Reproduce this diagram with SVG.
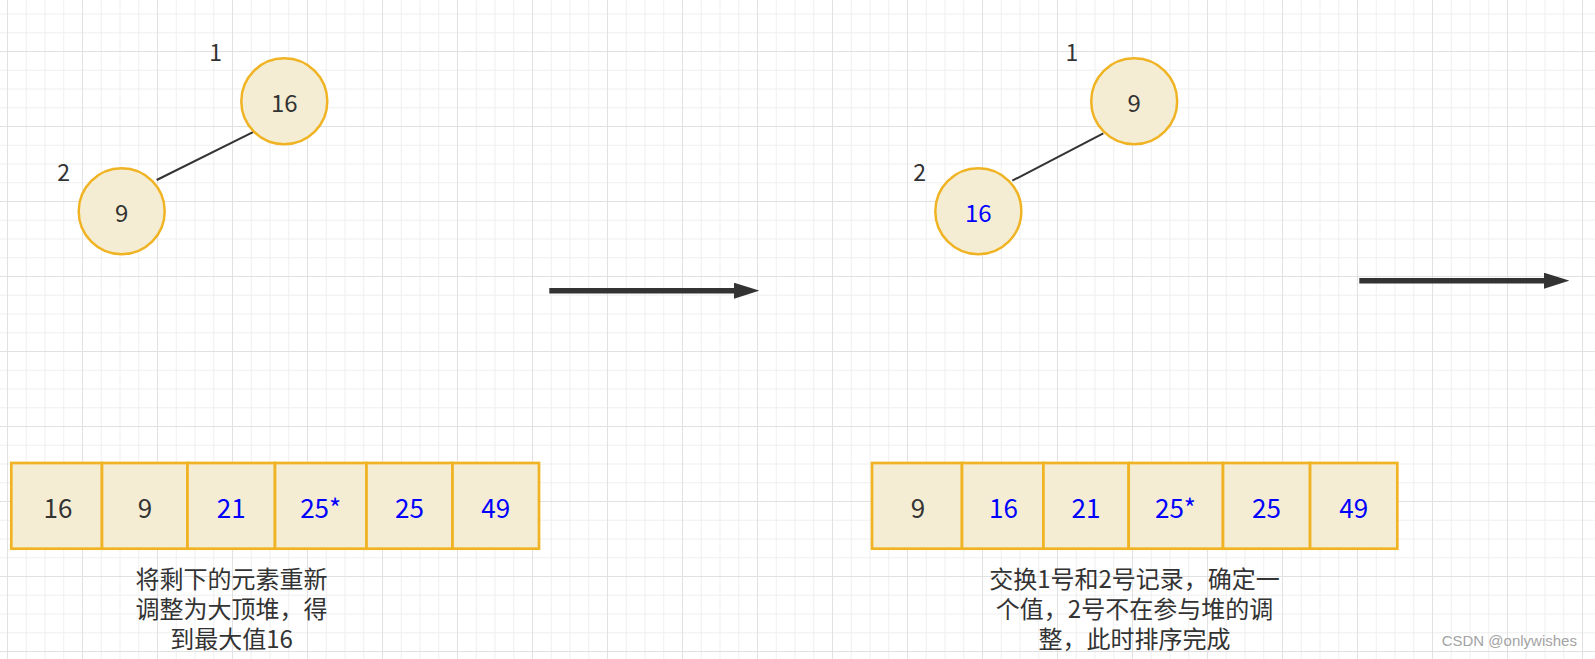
<svg xmlns="http://www.w3.org/2000/svg" width="1595" height="659" viewBox="0 0 1595 659">
  <defs>
    <pattern id="grid" patternUnits="userSpaceOnUse" x="82" y="51" width="75" height="75">
      <rect x="0" y="0" width="75" height="75" fill="#ffffff"/>
      <rect x="18.75" y="0" width="1" height="75" fill="#f0f0f0"/>
      <rect x="37.5" y="0" width="1" height="75" fill="#f0f0f0"/>
      <rect x="56.25" y="0" width="1" height="75" fill="#f0f0f0"/>
      <rect x="0" y="18.75" width="75" height="1" fill="#f0f0f0"/>
      <rect x="0" y="37.5" width="75" height="1" fill="#f0f0f0"/>
      <rect x="0" y="56.25" width="75" height="1" fill="#f0f0f0"/>
      <rect x="0" y="0" width="1" height="75" fill="#e1e1e1"/>
      <rect x="0" y="0" width="75" height="1" fill="#e1e1e1"/>
    </pattern>
    <marker id="arrow" markerUnits="userSpaceOnUse" viewBox="0 0 25.3 16" refX="0" refY="8" markerWidth="25.3" markerHeight="16" orient="auto">
      <path d="M0,0 L25.3,8 L0,16 Z" fill="#333333"/>
    </marker>
    <style>
      .node { fill: #f5edd3; stroke: #f0b323; stroke-width: 2.5; }
      .cell { fill: #f5edd3; stroke: #f0b323; stroke-width: 2.7; }
      .t { font-family: "Noto Sans CJK SC", "Open Sans", sans-serif; fill: #333333; text-anchor: middle; dominant-baseline: central; }
      .nt { font-size: 24px; }
      .ct { font-size: 26px; }
      .lbl { font-size: 23px; }
      .cap { font-size: 24px; }
      .blue { fill: #0000ff; }
      .edge { stroke: #333333; stroke-width: 2; fill: none; }
      .flow { stroke: #333333; stroke-width: 5.5; fill: none; marker-end: url(#arrow); }
      .wm { font-family: "Liberation Sans", Arial, sans-serif; font-size: 15px; fill: #a3a3a3; }
    </style>
  </defs>

  <rect x="0" y="0" width="1595" height="659" fill="url(#grid)"/>

  <g id="connectors">
    <line class="edge" x1="254" y1="131.7" x2="156.7" y2="180"/>
    <line class="edge" x1="1103.3" y1="133.3" x2="1012.3" y2="180.7"/>
    <line class="flow" x1="549.3" y1="290.7" x2="734" y2="290.7"/>
    <line class="flow" x1="1359.3" y1="280.7" x2="1544" y2="280.7"/>
  </g>

  <!-- left tree -->
  <g id="left-root">
    <circle class="node" cx="284.3" cy="101.2" r="43"/>
    <text class="t nt" x="284.3" y="101.2">16</text>
  </g>
  <g id="left-child">
    <circle class="node" cx="121.7" cy="211.2" r="43"/>
    <text class="t nt" x="121.7" y="211.2">9</text>
  </g>
  <g id="left-label-1"><text class="t lbl" x="215.7" y="50.7">1</text></g>
  <g id="left-label-2"><text class="t lbl" x="63.7" y="170.8">2</text></g>

  <!-- right tree -->
  <g id="right-root">
    <circle class="node" cx="1134.2" cy="101.2" r="43"/>
    <text class="t nt" x="1134.2" y="101.2">9</text>
  </g>
  <g id="right-child">
    <circle class="node" cx="978.3" cy="211.2" r="43"/>
    <text class="t nt blue" x="978.3" y="211.2">16</text>
  </g>
  <g id="right-label-1"><text class="t lbl" x="1072" y="50.8">1</text></g>
  <g id="right-label-2"><text class="t lbl" x="919.7" y="171.3">2</text></g>

  <!-- left array -->
  <g id="left-array">
    <rect class="cell" x="11.3" y="463" width="90.7" height="85.7"/>
    <rect class="cell" x="102" y="463" width="85.5" height="85.7"/>
    <rect class="cell" x="187.5" y="463" width="87.5" height="85.7"/>
    <rect class="cell" x="275" y="463" width="91.5" height="85.7"/>
    <rect class="cell" x="366.5" y="463" width="86" height="85.7"/>
    <rect class="cell" x="452.5" y="463" width="86.5" height="85.7"/>
    <text class="t ct" x="58" y="506">16</text>
    <text class="t ct" x="145" y="506">9</text>
    <text class="t ct blue" x="231.2" y="506">21</text>
    <text class="t ct blue" x="320.7" y="506">25*</text>
    <text class="t ct blue" x="409.5" y="506">25</text>
    <text class="t ct blue" x="495.8" y="506">49</text>
  </g>
  <g id="left-caption">
    <text class="t cap"><tspan x="231.5" y="577">将剩下的元素重新</tspan><tspan x="231.5" y="606.5">调整为大顶堆，得</tspan><tspan x="231.5" y="636.5">到最大值16</tspan></text>
  </g>

  <!-- right array -->
  <g id="right-array">
    <rect class="cell" x="872" y="463" width="90" height="85.7"/>
    <rect class="cell" x="962" y="463" width="81.4" height="85.7"/>
    <rect class="cell" x="1043.4" y="463" width="85.3" height="85.7"/>
    <rect class="cell" x="1128.7" y="463" width="94.3" height="85.7"/>
    <rect class="cell" x="1223" y="463" width="87.1" height="85.7"/>
    <rect class="cell" x="1310.1" y="463" width="87.2" height="85.7"/>
    <text class="t ct" x="918" y="506">9</text>
    <text class="t ct blue" x="1003.5" y="506">16</text>
    <text class="t ct blue" x="1086" y="506">21</text>
    <text class="t ct blue" x="1175.5" y="506">25*</text>
    <text class="t ct blue" x="1266.5" y="506">25</text>
    <text class="t ct blue" x="1353.7" y="506">49</text>
  </g>
  <g id="right-caption">
    <text class="t cap"><tspan x="1134.5" y="577">交换1号和2号记录，确定一</tspan><tspan x="1134.5" y="606.5">个值，2号不在参与堆的调</tspan><tspan x="1134.5" y="636.5">整，此时排序完成</tspan></text>
  </g>

  <g id="watermark">
    <text class="wm" x="1441.7" y="646">CSDN @onlywishes</text>
  </g>
</svg>
